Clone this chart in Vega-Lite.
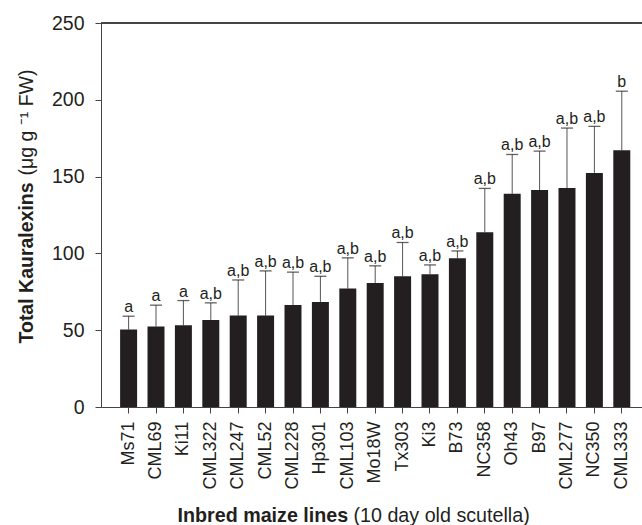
{
  "$schema": "https://vega.github.io/schema/vega-lite/v6.json",
  "width": 541,
  "height": 384,
  "autosize": "none",
  "padding": {"left": 101, "top": 23, "right": 0, "bottom": 118},
  "background": "white",
  "config": {
    "view": {"stroke": null},
    "font": "Liberation Sans",
    "axis": {"grid": false}
  },
  "data": {
    "values": [
      {"line": "Ms71", "mean": 50.4, "upper": 59.1, "label": "a"},
      {"line": "CML69", "mean": 52.4, "upper": 66.3, "label": "a"},
      {"line": "Ki11", "mean": 53.2, "upper": 69.3, "label": "a"},
      {"line": "CML322", "mean": 56.7, "upper": 67.8, "label": "a,b"},
      {"line": "CML247", "mean": 59.5, "upper": 82.7, "label": "a,b"},
      {"line": "CML52", "mean": 59.5, "upper": 88.6, "label": "a,b"},
      {"line": "CML228", "mean": 66.4, "upper": 87.8, "label": "a,b"},
      {"line": "Hp301", "mean": 68.4, "upper": 85.1, "label": "a,b"},
      {"line": "CML103", "mean": 77.1, "upper": 97.1, "label": "a,b"},
      {"line": "Mo18W", "mean": 80.8, "upper": 91.9, "label": "a,b"},
      {"line": "Tx303", "mean": 85.1, "upper": 107.1, "label": "a,b"},
      {"line": "Ki3", "mean": 86.5, "upper": 92.5, "label": "a,b"},
      {"line": "B73", "mean": 96.9, "upper": 101.6, "label": "a,b"},
      {"line": "NC358", "mean": 113.8, "upper": 142.3, "label": "a,b"},
      {"line": "Oh43", "mean": 138.8, "upper": 164.4, "label": "a,b"},
      {"line": "B97", "mean": 141.2, "upper": 166.6, "label": "a,b"},
      {"line": "CML277", "mean": 142.5, "upper": 181.6, "label": "a,b"},
      {"line": "NC350", "mean": 152.4, "upper": 182.7, "label": "a,b"},
      {"line": "CML333", "mean": 167.2, "upper": 205.6, "label": "b"}
    ]
  },
  "layer": [
    {
      "mark": {"type": "rule", "color": "#555555", "strokeWidth": 1},
      "encoding": {
        "x": {"field": "line", "type": "nominal", "sort": null, "axis": null},
        "y": {"field": "mean", "type": "quantitative", "axis": null},
        "y2": {"field": "upper"}
      }
    },
    {
      "mark": {"type": "bar", "color": "#231f20"},
      "encoding": {
        "x": {
          "field": "line", "type": "nominal", "sort": null,
          "scale": {"paddingInner": 0.38, "paddingOuter": 0.5625, "align": 0.62},
          "axis": {
            "orient": "bottom",
            "labelAngle": -90, "labelAlign": "right", "labelBaseline": "middle",
            "labelFontSize": 18, "labelColor": "#231f20", "labelPadding": 8,
            "tickSize": 6, "tickColor": "#444444", "domainColor": "#444444",
            "title": "Inbred maize lines", "titleFontSize": 19.7, "titleFontWeight": "bold",
            "titleColor": "#231f20", "titleX": 76, "titleY": 114,
            "titleAlign": "left", "titleBaseline": "alphabetic"
          }
        },
        "y": {
          "field": "mean", "type": "quantitative",
          "scale": {"domain": [0, 250], "nice": false},
          "axis": {
            "orient": "left", "values": [0, 50, 100, 150, 200, 250],
            "labelFontSize": 19.5, "labelColor": "#231f20", "labelPadding": 11,
            "tickSize": 6, "tickColor": "#444444", "domainColor": "#444444",
            "title": "Total Kauralexins", "titleFontSize": 19.5, "titleFontWeight": "bold",
            "titleColor": "#231f20", "titleX": -69, "titleY": 320, "titleAngle": 270,
            "titleAlign": "left", "titleBaseline": "alphabetic"
          }
        }
      }
    },
    {
      "mark": {"type": "tick", "color": "#231f20", "size": 12, "thickness": 1.3},
      "encoding": {
        "x": {"field": "line", "type": "nominal", "sort": null, "axis": null},
        "y": {"field": "upper", "type": "quantitative", "axis": null}
      }
    },
    {
      "mark": {"type": "text", "color": "#231f20", "fontSize": 16, "baseline": "alphabetic", "dy": -4},
      "encoding": {
        "x": {
          "field": "line", "type": "nominal", "sort": null,
          "axis": {
            "orient": "bottom", "labels": false, "ticks": false, "domain": false,
            "title": "(10 day old scutella)", "titleFontSize": 19.7, "titleFontWeight": "normal",
            "titleColor": "#231f20", "titleX": 252, "titleY": 114,
            "titleAlign": "left", "titleBaseline": "alphabetic"
          }
        },
        "y": {
          "field": "upper", "type": "quantitative",
          "axis": {
            "orient": "left", "labels": false, "ticks": false, "domain": false,
            "title": "(μg g ⁻¹ FW)", "titleFontSize": 19.5, "titleFontWeight": "normal",
            "titleColor": "#231f20", "titleX": -69, "titleY": 152, "titleAngle": 270,
            "titleAlign": "left", "titleBaseline": "alphabetic"
          }
        },
        "text": {"field": "label", "type": "nominal"}
      }
    },
    {
      "mark": {"type": "rule", "color": "#444444", "strokeWidth": 1},
      "encoding": {
        "y": {"datum": 250, "type": "quantitative", "axis": null}
      }
    }
  ],
  "resolve": {"axis": {"x": "independent", "y": "independent"}}
}
